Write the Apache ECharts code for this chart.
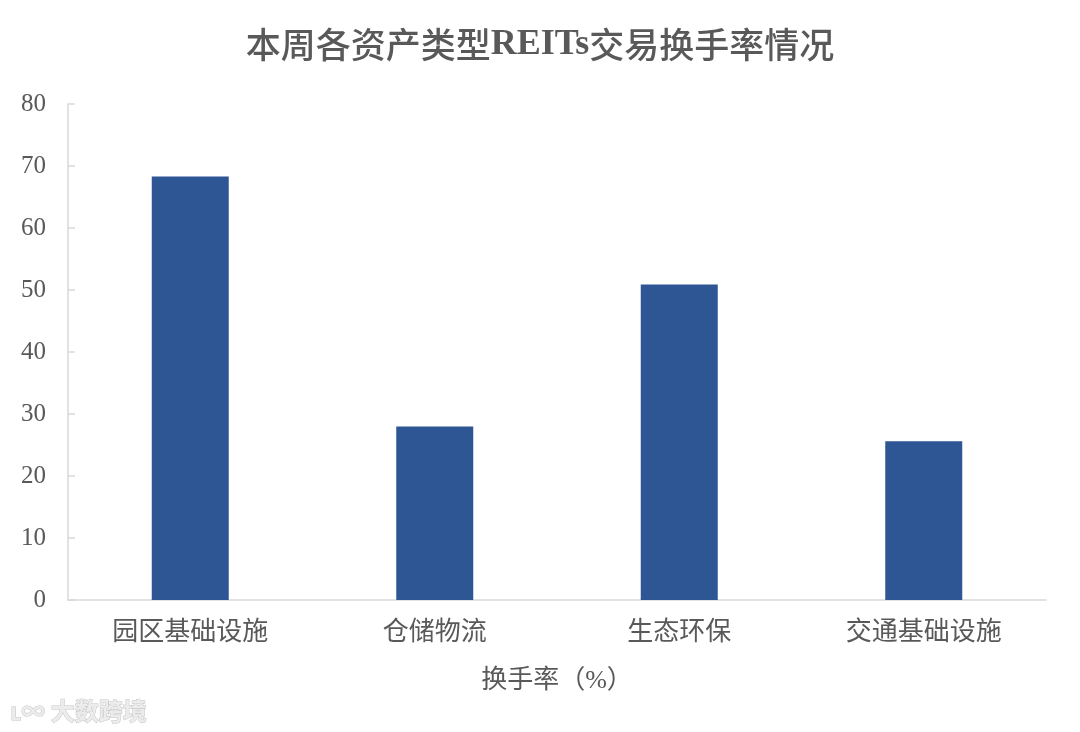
<!DOCTYPE html>
<html><head><meta charset="utf-8">
<script src="https://cdn.jsdelivr.net/npm/echarts@6/dist/echarts.min.js"></script>
<style>html,body{margin:0;padding:0;background:#fff}#c{width:1080px;height:732px}</style>
</head><body><div id="c"></div>
<script>
const categories = ['园区基础设施', '仓储物流', '生态环保', '交通基础设施'];
const turnover = [68.3, 28.0, 50.9, 25.6];
const yTicks = { min: 0, max: 80, interval: 10 };
const titleParts = ['本周各资产类型', 'REITs', '交易换手率情况'];
const xName = '换手率（%）';

const chart = echarts.init(document.getElementById('c'));
const serif = '"Liberation Serif", "Noto Sans CJK SC", serif';
chart.setOption({
  backgroundColor: '#fff',
  title: { text: '{a|' + titleParts[0] + '}{b|' + titleParts[1] + '}{a|' + titleParts[2] + '}',
    left: 'center', top: 22,
    textStyle: { rich: {
      a: { fontFamily: '"Noto Sans CJK SC", sans-serif', fontSize: 35, fontWeight: 500, color: '#595959' },
      b: { fontFamily: '"Liberation Serif", serif', fontSize: 36, fontWeight: 'bold', color: '#595959' } } } },
  grid: { left: 68, right: 34, top: 104, bottom: 132 },
  xAxis: { type: 'category', data: categories,
    name: xName, nameLocation: 'middle', nameGap: 68,
    nameTextStyle: { fontFamily: serif, fontSize: 26, color: '#595959' },
    axisLine: { lineStyle: { color: '#d9d9d9', width: 1.5 } },
    axisTick: { show: false },
    axisLabel: { fontFamily: serif, fontSize: 26, color: '#595959', margin: 20 } },
  yAxis: { type: 'value', min: yTicks.min, max: yTicks.max, interval: yTicks.interval,
    axisLine: { show: true, lineStyle: { color: '#d9d9d9', width: 1.5 } },
    axisTick: { show: true, inside: true, length: 7, lineStyle: { color: '#d9d9d9', width: 1.5 } },
    splitLine: { show: false },
    axisLabel: { fontFamily: serif, fontSize: 25, color: '#595959', margin: 22 } },
  series: [{ type: 'bar', data: turnover, barWidth: 77,
    itemStyle: { color: '#2e5594' } }],
  graphic: [{ type: 'text', left: 10, top: 698,
    style: { text: 'ʟ∞ 大数跨境', fontSize: 24, fontWeight: 'bold', fill: '#ececec', stroke: '#c4c4c4', lineWidth: 1,
      fontFamily: '"Noto Sans CJK SC", sans-serif' } }]
});
</script></body></html>
